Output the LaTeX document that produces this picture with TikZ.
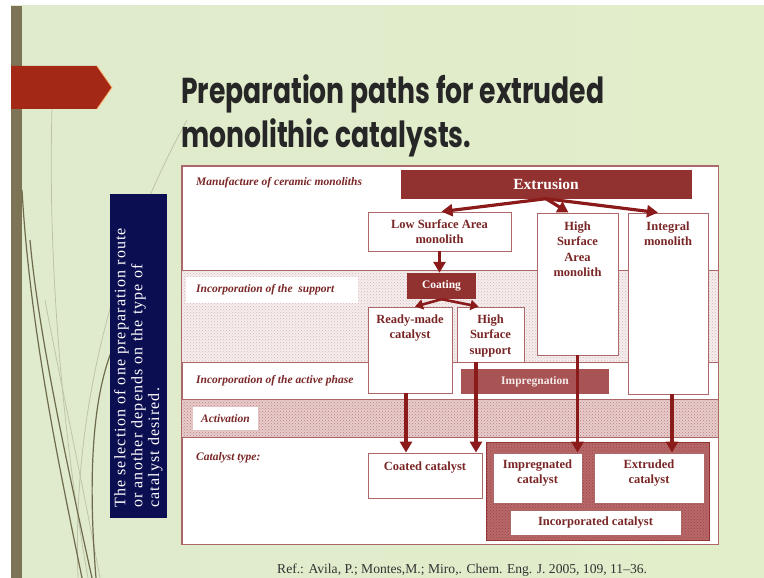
\documentclass[tikz,border=0pt]{standalone}
\usepackage{fontspec}
\setmainfont{Liberation Serif}
\newfontfamily\titlefont{Poppins}
\newfontfamily\notefont{Liberation Serif}[LetterSpace=7]
\usepackage{tikz}
\usetikzlibrary{arrows.meta, positioning, patterns}
\definecolor{slideA}{RGB}{224,235,205}
\definecolor{slideB}{RGB}{244,247,236}
\definecolor{slideC}{RGB}{226,237,202}
\definecolor{barolive}{RGB}{124,116,84}
\definecolor{decodark}{RGB}{112,106,76}
\definecolor{decolight}{RGB}{190,196,168}
\definecolor{bannerred}{RGB}{163,40,22}
\definecolor{titlegray}{RGB}{38,38,38}
\definecolor{navy}{RGB}{12,14,82}
\definecolor{boxred}{RGB}{146,50,48}
\definecolor{arrowred}{RGB}{139,26,26}
\definecolor{impred}{RGB}{168,84,84}
\definecolor{labred}{RGB}{122,38,38}
\definecolor{boxline}{RGB}{172,104,104}
\definecolor{supportfill}{RGB}{246,238,238}
\definecolor{supportdot}{RGB}{214,184,184}
\definecolor{actfill}{RGB}{232,204,204}
\definecolor{actdot}{RGB}{188,128,128}
\definecolor{incfill}{RGB}{184,104,104}
\definecolor{incdot}{RGB}{150,70,70}
\definecolor{refgray}{RGB}{50,50,50}

\begin{document}
\begin{tikzpicture}[x=1pt, y=-1pt,
  stage/.style={draw=boxline, fill=white, line width=0.8pt, inner sep=0pt, text=labred,
    align=center, font=\fontsize{12.5}{15.3}\selectfont\bfseries},
  stagetext/.style={text=labred, align=center, inner sep=0pt, font=\fontsize{12.5}{15.3}\selectfont\bfseries},
  process/.style={fill=boxred, text=white, inner sep=0pt, font=\fontsize{11.5}{14}\selectfont\bfseries},
  bandlabel/.style={text=labred, anchor=west, inner sep=0pt, font=\fontsize{11.5}{13}\selectfont\bfseries\itshape},
  bandline/.style={draw=boxline, line width=0.8pt},
  flow/.style={draw=arrowred, line width=3.2pt, -{Triangle[length=11pt,width=12pt]}},
  shortflow/.style={draw=arrowred, line width=2.6pt, -{Triangle[length=8pt,width=10pt]}},
  deco/.style={line width=1.2pt, decodark},
  decofaint/.style={line width=0.8pt, decolight}
]
\useasboundingbox (0,0) rectangle (764,578);
\fill[white] (0,0) rectangle (764,578);
\shade[left color=slideA, middle color=slideB, right color=slideC] (11,6) rectangle (764,578);
\fill[barolive] (11,6) rectangle (22,578);
\draw[decofaint] (88,578) .. controls (60,420) and (48,250) .. (52,109);
\draw[decofaint] (78,578) .. controls (72,420) and (110,260) .. (187,120);
\draw[decofaint] (100,578) .. controls (80,470) and (60,380) .. (45,300);
\draw[deco] (82,578) .. controls (60,470) and (30,330) .. (22,190);
\draw[deco] (92,578) .. controls (66,460) and (38,330) .. (30,240);
\draw[deco] (96,578) .. controls (88,480) and (92,400) .. (112,350);
\fill[bannerred] (11,66) -- (97,66) -- (112,87.5) -- (97,109) -- (11,109) -- cycle;
\draw[orange!55, line width=0.8pt] (97,66) -- (112,87.5) -- (97,109);

\node[anchor=base west, inner sep=0pt, text=titlegray, font=\titlefont\fontsize{36}{40}\selectfont\bfseries] (title1) at (181,103)
  {\scalebox{0.74}[1]{Preparation paths for extruded}};
\node[anchor=base west, inner sep=0pt, text=titlegray, font=\titlefont\fontsize{36}{40}\selectfont\bfseries] (title2) at (181,147)
  {\scalebox{0.74}[1]{monolithic catalysts.}};

\node[fill=navy, minimum width=57pt, minimum height=324pt, inner sep=0pt] (note) at (138.5,356) {};
\node[rotate=90, anchor=north west, inner sep=0pt, align=left, text=white,
  font=\notefont\fontsize{16}{16.8}\selectfont] (notetext) at (114,508)
  {The selection of one preparation route\\or another depends on the type of\\catalyst desired.};

\node[draw=boxline, fill=white, line width=0.8pt, minimum width=536pt, minimum height=378pt, inner sep=0pt] (frame) at (450,355) {};
\fill[supportfill] (182,270) rectangle (718,362);
\fill[pattern=crosshatch dots, pattern color=supportdot] (182,270) rectangle (718,362);
\fill[white] (186,277) rectangle (358,303);
\fill[actfill] (182,399) rectangle (718,437);
\fill[pattern=crosshatch dots, pattern color=actdot] (182,399) rectangle (718,437);
\fill[white] (193,407) rectangle (258,430);
\draw[bandline] (182,270) -- (718,270) (182,362) -- (718,362) (182,399) -- (718,399) (182,437) -- (718,437);
\draw[boxline, line width=0.8pt] (frame.north west) rectangle (frame.south east);

\node[bandlabel] (lmanu) at (196,183) {Manufacture of ceramic monoliths};
\node[bandlabel] (lsupp) at (196,290) {Incorporation of the\ \ support};
\node[bandlabel] (lphase) at (196,381) {Incorporation of the active phase};
\node[bandlabel] (lactiv) at (201,419) {Activation};
\node[bandlabel] (ltype) at (196,458) {Catalyst type:};

\node[process, minimum width=291pt, minimum height=29pt, font=\fontsize{15.5}{18}\selectfont\bfseries] (extrusion) at (546,184) {Extrusion};
\node[stage, minimum width=143pt, minimum height=39pt] (lowsa) at (439.5,231.5) {Low Surface Area\\monolith};
\node[stage, minimum width=81pt, minimum height=142pt] (highsa) at (577.5,284) {};
\node[stagetext, below=9pt of highsa.north] (highsat) {High\\Surface\\Area\\monolith};
\node[stage, minimum width=80pt, minimum height=181pt] (integral) at (668,303.5) {};
\node[stagetext, below=9pt of integral.north] (integralt) {Integral\\monolith};
\node[process, minimum width=69pt, minimum height=26pt] (coating) at (441.5,286) {Coating};
\node[stage, minimum width=84pt, minimum height=86pt] (ready) at (410,350) {};
\node[stagetext, below=8pt of ready.north] (readyt) {Ready-made\\catalyst};
\node[stage, minimum width=67pt, minimum height=55pt] (hss) at (490.5,334.5) {};
\node[stagetext, below=8pt of hss.north] (hsst) {High\\Surface\\support};
\node[process, fill=impred, text=white!88!impred, minimum width=148pt, minimum height=25pt] (impreg) at (535,381.5) {Impregnation};

\node[stage, minimum width=114pt, minimum height=45pt] (coated) at (425,475.5) {};
\node[stagetext, below=9pt of coated.north] (coatedt) {Coated catalyst};
\node[draw=boxred, line width=0.8pt, fill=incfill, minimum width=223pt, minimum height=98pt, inner sep=0pt,
  postaction={pattern=crosshatch dots, pattern color=incdot}] (incorp) at (597.5,491) {};
\node[stage, minimum width=89pt, minimum height=50pt] (impcat) at (537.5,478) {};
\node[stagetext, below=7pt of impcat.north] (impcatt) {Impregnated\\catalyst};
\node[stage, minimum width=110pt, minimum height=50pt] (extcat) at (649,478) {};
\node[stagetext, below=7pt of extcat.north] (extcatt) {Extruded\\catalyst};
\node[stage, minimum width=171pt, minimum height=25pt] (inccat) at (595.5,522.5) {Incorporated catalyst};

\draw[flow] (extrusion.south) -- ([xshift=2pt]lowsa.north);
\draw[flow] (extrusion.south) -- ([xshift=-9pt]highsa.north);
\draw[flow] (extrusion.south) -- ([xshift=-10pt]integral.north);
\draw[flow] (lowsa.south) -- (lowsa.south |- coating.north);
\draw[shortflow] (coating.south) -- ([xshift=5pt]ready.north);
\draw[shortflow] (coating.south) -- ([xshift=-12pt]hss.north);
\draw[flow] ([xshift=-4pt]ready.south) -- ([xshift=-4pt]ready.south |- coated.north);
\draw[flow] ([xshift=-14.5pt]hss.south) -- ([xshift=-14.5pt]hss.south |- coated.north);
\draw[flow] (highsa.south) -- (highsa.south |- impcat.north);
\draw[flow] ([xshift=4pt]integral.south) -- ([xshift=4pt]integral.south |- extcat.north);

\node[anchor=base west, inner sep=0pt, text=refgray, font=\fontsize{13.6}{15}\selectfont] (ref) at (277,573)
  {Ref.: Avila, P.; Montes,M.; Miro,. Chem. Eng. J. 2005, 109, 11--36.};
\end{tikzpicture}
\end{document}
